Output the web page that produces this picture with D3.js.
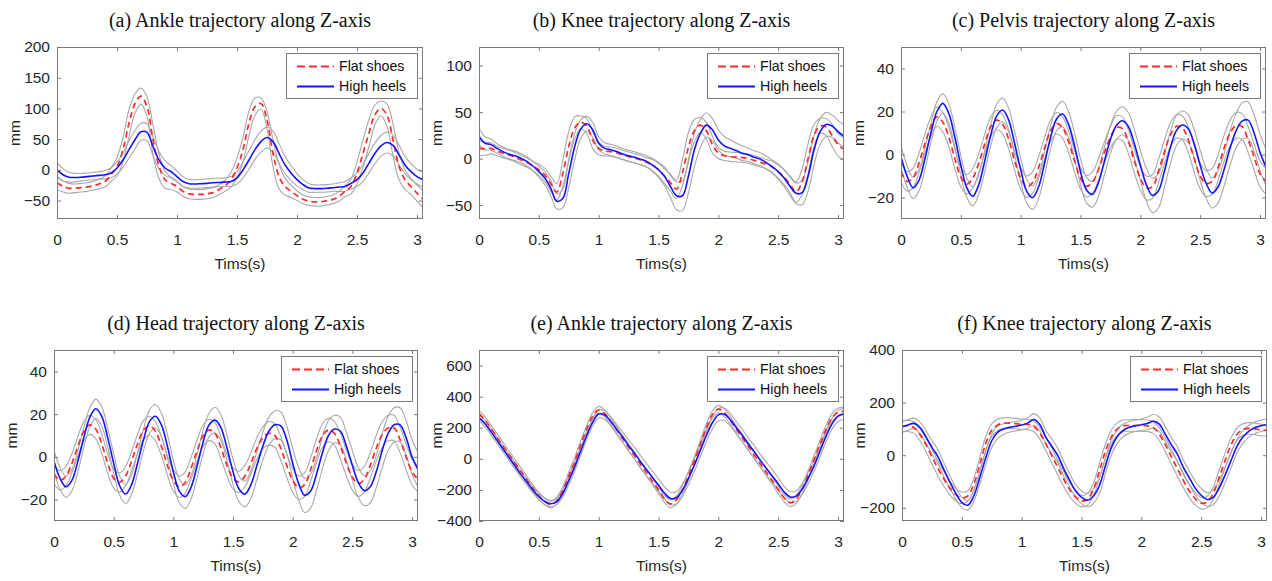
<!DOCTYPE html>
<html lang="en">
<head>
  <meta charset="UTF-8" />
  <title>Trajectories along Z-axis</title>
  <script src="https://cdn.jsdelivr.net/npm/d3@7"></script>
  <style>
    body { margin: 0; background: #fff; }
    svg { display: block; }
    .axis text { font-family: "Liberation Sans", Arial, sans-serif; font-size: 15.5px; fill: #262626; }
    .axis line { stroke: #7a7a7a; }
    .axis path { display: none; }
    .title { font-family: "Liberation Serif", "Times New Roman", serif; font-size: 20px; fill: #111; }
    .label { font-family: "Liberation Sans", Arial, sans-serif; font-size: 15.5px; fill: #262626; }
    .legend text { font-family: "Liberation Sans", Arial, sans-serif; font-size: 14.2px; fill: #111; }
  </style>
</head>
<body>
<svg id="chart" width="1272" height="581"></svg>
<script>
// sample times (s)
var times = [0, 0.05, 0.1, 0.15, 0.2, 0.25, 0.3, 0.35, 0.4, 0.45,
  0.5, 0.55, 0.6, 0.65, 0.7, 0.75, 0.8, 0.85, 0.9, 0.95,
  1, 1.05, 1.1, 1.15, 1.2, 1.25, 1.3, 1.35, 1.4, 1.45,
  1.5, 1.55, 1.6, 1.65, 1.7, 1.75, 1.8, 1.85, 1.9, 1.95,
  2, 2.05, 2.1, 2.15, 2.2, 2.25, 2.3, 2.35, 2.4, 2.45,
  2.5, 2.55, 2.6, 2.65, 2.7, 2.75, 2.8, 2.85, 2.9, 2.95,
  3, 3.05];
var xTicks = [0, 0.5, 1, 1.5, 2, 2.5, 3];
var seriesNames = ["Flat shoes", "High heels"];

// (a) ankle
var flatA = [-21, -27, -30, -30, -29, -28, -26, -23, -19, -8,
  5, 33, 76, 108, 120, 103, 49, 6, -16, -22,
  -27, -35, -39, -40, -40, -39, -37, -32, -26, -16,
  3, 33, 76, 103, 108, 81, 27, -11, -27, -35,
  -42, -48, -51, -52, -52, -50, -48, -43, -35, -27,
  -5, 27, 60, 90, 100, 89, 49, 6, -16, -27,
  -38, -48];
var highA = [0, -8, -12, -12.5, -12, -11, -10, -9, -8, -5,
  3, 16, 33, 49, 62, 61, 38, 16, 3, -3,
  -11, -19, -22.5, -23, -22.5, -22, -21, -20.5, -20, -19,
  -13, 0, 16, 33, 46, 52.6, 46, 27, 8, -5,
  -16, -24, -29.5, -30.5, -30.5, -30, -29, -28, -27, -22,
  -16, -5, 11, 27, 39, 44.5, 40, 24.5, 8, -3,
  -11, -16];
var flatSdA = [11, 9, 8, 7, 7, 7, 7, 8, 9, 11,
  15, 20, 22, 16, 13, 16, 24, 20, 14, 10,
  9, 8, 8, 8, 8, 8, 8, 8, 9, 12,
  16, 20, 20, 14, 9, 14, 22, 20, 14, 10,
  8, 7, 7, 7, 7, 7, 7, 8, 9, 12,
  18, 22, 22, 16, 12, 18, 26, 22, 16, 13,
  13, 14];
var highSdA = [12, 10, 8, 7, 6, 6, 6, 6, 7, 8,
  10, 12, 14, 15, 14, 14, 15, 14, 12, 10,
  9, 8, 7, 7, 7, 7, 7, 7, 7, 8,
  10, 13, 15, 16, 17, 17, 17, 16, 14, 12,
  10, 8, 7, 6, 6, 6, 6, 7, 8, 9,
  11, 14, 16, 17, 17, 17, 17, 16, 14, 13,
  12, 12];

// (b) knee
var flatB = [11, 10.5, 11, 8, 6, 4, 1.5, -1.5, -4.3, -8,
  -12, -17.6, -27, -36, -16, 13, 33, 39, 35, 20,
  11, 8, 7.5, 6, 4, 2, 0.4, -1.4, -4, -7,
  -12, -19, -26, -33, -15, 12, 30, 36, 30, 15,
  6, 3, 2, 1.5, 1, 0, -2, -4, -6, -9,
  -14, -20, -28, -36, -25, 0, 25, 35, 34, 25,
  15, 10];
var highB = [24, 16.5, 15, 11, 7.5, 4.7, 3, 0.4, -3, -8,
  -14, -21, -32, -46, -43, -16, 13, 31.7, 37.4, 31,
  16.5, 11, 9.4, 7.5, 5, 3, 1.4, -0.7, -3, -7,
  -12, -19, -30, -40, -40, -19, 9.4, 27, 36, 31,
  20, 13.7, 11, 8.6, 5.8, 4, 1.4, -0.7, -4.3, -8.6,
  -14, -21, -30, -37.4, -36.7, -19, 9.4, 29, 36.7, 35,
  29, 24];
var flatSdB = [8, 7, 6, 5, 5, 5, 5, 5, 5, 5,
  6, 7, 8, 9, 14, 16, 12, 7, 8, 9,
  7, 5, 5, 5, 5, 5, 5, 5, 5, 6,
  7, 8, 9, 10, 14, 16, 12, 8, 9, 9,
  6, 5, 5, 5, 5, 5, 5, 5, 5, 6,
  7, 8, 9, 11, 14, 16, 12, 8, 9, 12,
  12, 12];
var highSdB = [9, 7, 6, 5, 5, 5, 5, 5, 5, 5,
  6, 7, 8, 8, 10, 15, 14, 10, 8, 8,
  7, 6, 6, 6, 6, 6, 6, 6, 6, 7,
  8, 10, 12, 15, 16, 18, 18, 15, 13, 12,
  11, 10, 9, 8, 8, 7, 7, 7, 7, 7,
  8, 9, 10, 11, 13, 16, 16, 14, 13, 12,
  12, 12];

// (c) pelvis
var flatC = [-8, -12.5, -11, -4, 5, 13, 17.5, 15, 8, -2,
  -10.5, -13.8, -11, -4, 5, 13, 16, 14, 7, -3,
  -11, -15, -13, -6, 3, 11, 14.5, 12.5, 6, -3,
  -11, -14.8, -13, -7, 1, 8, 12.5, 12, 6, -3,
  -11, -15.5, -15, -8, 1, 9, 13, 12.5, 7, -2,
  -10, -13.5, -12.5, -6, 3, 10, 13.5, 13, 7, -1,
  -9, -12.5];
var highC = [-1, -10, -15.5, -12, -2, 10, 20, 23.8, 19, 8,
  -5, -15.5, -19.4, -14, -3, 9, 18, 20.7, 16, 5,
  -7, -17, -20, -15, -4, 8, 16.5, 18.8, 14, 4,
  -8, -16.5, -18.5, -13, -3, 7, 13.5, 15.7, 13, 5,
  -5, -14, -19, -17, -8, 3, 11, 13.7, 12, 5,
  -5, -13.5, -17.9, -15, -7, 3, 11, 15.5, 16, 10,
  1, -6];
var flatSdC = [4.5, 4.5, 4.5, 4.5, 4.5, 4.5, 4.5, 4.5, 4.5, 4.5,
  4.5, 4.5, 4.5, 4.5, 4.5, 4.5, 4.5, 4.5, 4.5, 4.5,
  5, 5, 5, 5, 5, 5, 5, 5, 5, 5,
  5, 5, 5, 5, 5, 5, 5.5, 5.5, 5.5, 5.5,
  5.5, 5.5, 5.5, 5.5, 5.5, 5.5, 5.5, 5.5, 6, 6,
  6, 6, 6, 6, 6, 6, 6, 6, 6, 6,
  6, 6];
var highSdC = [5, 5, 5, 5, 5, 4.5, 4.5, 4.5, 4.5, 4.5,
  4.5, 4.5, 4.5, 4.5, 5, 5, 5.5, 5.5, 5.5, 5.5,
  5.5, 5.5, 5.5, 5.5, 5.5, 5.5, 5.5, 6, 6, 6,
  6, 6, 6, 6.5, 6.5, 6.5, 6.5, 6.5, 6.5, 6.5,
  7, 7.5, 8, 8, 7.5, 7.5, 7, 6.5, 6.5, 6.5,
  7, 7, 7, 7.5, 7.5, 8, 8, 8.5, 8.5, 8.5,
  8.5, 8.5];

// (d) head
var flatD = [-8, -11, -9, -3, 5, 12, 15, 13, 6, -3,
  -10, -12, -9, -2, 6, 12.5, 14.5, 12, 5, -4,
  -11, -14, -12, -5, 3, 10, 12.6, 11, 4, -4,
  -10, -11.7, -9, -3, 4, 9, 11, 10, 4, -4,
  -11, -14.5, -13, -6, 3, 10, 12.6, 11, 5, -3,
  -9.5, -12.5, -10.5, -4, 4, 10.5, 13.5, 13.5, 8, 0,
  -7, -10.5];
var highD = [-2, -10, -14, -11, -2, 9, 18.5, 22.5, 19, 9,
  -3, -13.5, -17.4, -13, -3, 8, 16.5, 19, 15, 5,
  -7, -16, -18.6, -14, -4, 7, 15, 17.2, 13.5, 4,
  -7, -15, -17.4, -13, -4, 5, 12, 15, 14.5, 8,
  -3, -12.5, -18, -16, -8, 2, 10, 13, 12, 5,
  -4, -12, -15.8, -14, -7, 3, 11, 15, 15, 9,
  0, -6];
var flatSdD = [4.5, 4.5, 4.5, 4.5, 4.5, 4.5, 4.5, 4.5, 4.5, 4.5,
  4.5, 4.5, 4.5, 4.5, 4.5, 4.5, 4.5, 4.5, 4.5, 4.5,
  5, 5, 5, 5, 5, 5, 5, 5, 5, 5,
  5, 5, 5, 5, 5, 5, 5.5, 5.5, 5.5, 5.5,
  5.5, 5.5, 5.5, 5.5, 5.5, 5.5, 5.5, 5.5, 6, 6,
  6, 6, 6, 6, 6, 6, 6, 6, 6, 6,
  6, 6];
var highSdD = [5, 5, 5, 5, 5, 4.5, 4.5, 4.5, 4.5, 4.5,
  4.5, 4.5, 4.5, 4.5, 5, 5, 5.5, 5.5, 5.5, 5.5,
  5.5, 5.5, 5.5, 5.5, 5.5, 5.5, 5.5, 6, 6, 6,
  6, 6, 6, 6.5, 6.5, 6.5, 6.5, 6.5, 6.5, 6.5,
  7, 7.5, 8, 8, 7.5, 7.5, 7, 6.5, 6.5, 6.5,
  7, 7, 7, 7.5, 7.5, 8, 8, 8, 8, 8,
  8, 8];

// (e) ankle
var flatE = [290, 250, 195, 140, 85, 30, -25, -80, -135, -190,
  -238, -274, -295, -268, -205, -110, -18, 92, 192, 275,
  315, 292, 242, 187, 130, 75, 20, -35, -90, -145,
  -200, -258, -290, -265, -200, -110, -12, 95, 200, 285,
  320, 297, 247, 190, 135, 80, 25, -30, -85, -140,
  -198, -252, -283, -260, -195, -105, -5, 95, 190, 265,
  300, 305];
var highE = [265, 225, 175, 120, 65, 10, -45, -100, -150, -200,
  -243, -275, -289, -275, -222, -140, -50, 50, 150, 235,
  288, 282, 242, 190, 140, 85, 35, -20, -70, -120,
  -170, -220, -255, -250, -203, -125, -40, 55, 150, 232,
  283, 287, 252, 200, 150, 95, 45, -10, -60, -110,
  -160, -213, -245, -240, -195, -125, -45, 50, 145, 225,
  275, 290];
var flatSdE = [22, 22, 22, 22, 22, 22, 22, 22, 22, 22,
  22, 22, 22, 22, 24, 26, 26, 24, 22, 22,
  22, 22, 22, 22, 22, 22, 22, 22, 22, 22,
  22, 22, 24, 26, 28, 28, 26, 24, 24, 24,
  24, 24, 24, 24, 24, 24, 24, 24, 24, 24,
  24, 24, 24, 26, 28, 28, 26, 26, 26, 26,
  26, 26];
var highSdE = [20, 20, 20, 20, 20, 20, 20, 20, 20, 20,
  20, 20, 20, 20, 24, 28, 28, 26, 24, 24,
  26, 28, 30, 32, 34, 36, 38, 40, 40, 40,
  40, 40, 40, 40, 40, 40, 40, 40, 40, 40,
  40, 40, 40, 40, 40, 40, 40, 40, 40, 40,
  38, 36, 35, 35, 35, 35, 35, 35, 35, 35,
  35, 35];

// (f) knee
var flatF = [110, 112, 105, 79, 40, -5, -50, -90, -125, -150,
  -162, -155, -110, -35, 45, 95, 115, 122, 122, 120,
  118, 117, 110, 85, 45, 0, -45, -90, -130, -158,
  -174, -168, -130, -60, 15, 70, 100, 112, 113, 113,
  113, 112, 105, 80, 40, -5, -50, -95, -135, -165,
  -182, -178, -145, -85, -20, 40, 80, 98, 102, 100,
  96, 95];
var highF = [107, 115, 121, 105, 70, 30, -5, -55, -102, -145,
  -180, -190, -155, -85, -10, 55, 88, 100, 106, 110,
  115, 122, 136, 118, 70, 35, 0, -50, -95, -135,
  -160, -171, -155, -115, -40, 30, 72, 95, 106, 112,
  116, 121, 129, 118, 80, 40, 5, -45, -85, -125,
  -152, -168, -160, -125, -75, -20, 35, 70, 92, 105,
  112, 116];
var flatSdF = [22, 22, 22, 24, 26, 28, 28, 28, 26, 24,
  22, 20, 22, 26, 26, 24, 22, 20, 20, 20,
  20, 20, 20, 22, 26, 28, 28, 28, 26, 24,
  22, 22, 24, 28, 28, 26, 24, 22, 22, 22,
  22, 22, 22, 24, 26, 28, 28, 28, 26, 24,
  22, 22, 24, 28, 28, 26, 24, 22, 22, 22,
  22, 22];
var highSdF = [20, 20, 20, 22, 24, 26, 26, 26, 24, 22,
  20, 18, 20, 24, 26, 26, 24, 20, 18, 18,
  18, 20, 22, 24, 26, 28, 28, 28, 26, 24,
  24, 26, 28, 30, 30, 28, 26, 24, 22, 22,
  22, 24, 26, 28, 28, 28, 28, 28, 26, 26,
  26, 26, 28, 30, 30, 28, 26, 24, 22, 22,
  22, 22];

var panels = [
  { title: "(a) Ankle trajectory along Z-axis", yDomain: [-80, 200], yTicks: [-50, 0, 50, 100, 150, 200],
    flat: flatA, high: highA, flatSd: flatSdA, highSd: highSdA, left: 57, right: 423, top: 47, bottom: 219 },
  { title: "(b) Knee trajectory along Z-axis", yDomain: [-65, 120], yTicks: [-50, 0, 50, 100],
    flat: flatB, high: highB, flatSd: flatSdB, highSd: highSdB, left: 479, right: 844, top: 47, bottom: 219 },
  { title: "(c) Pelvis trajectory along Z-axis", yDomain: [-30, 50], yTicks: [-20, 0, 20, 40],
    flat: flatC, high: highC, flatSd: flatSdC, highSd: highSdC, left: 901, right: 1266, top: 47, bottom: 219 },
  { title: "(d) Head trajectory along Z-axis", yDomain: [-30, 50], yTicks: [-20, 0, 20, 40],
    flat: flatD, high: highD, flatSd: flatSdD, highSd: highSdD, left: 54, right: 418, top: 350, bottom: 521 },
  { title: "(e) Ankle trajectory along Z-axis", yDomain: [-400, 700], yTicks: [-400, -200, 0, 200, 400, 600],
    flat: flatE, high: highE, flatSd: flatSdE, highSd: highSdE, left: 479, right: 844, top: 350, bottom: 521 },
  { title: "(f) Knee trajectory along Z-axis", yDomain: [-250, 400], yTicks: [-200, 0, 200, 400],
    flat: flatF, high: highF, flatSd: flatSdF, highSd: highSdF, left: 902, right: 1267, top: 350, bottom: 521 }
];

var svg = d3.select("#chart");
var red = "#ff2a2a", blue = "#1414ff", gray = "#a8a8a8", frame = "#7a7a7a";

panels.forEach(function(p, i) {
  var x = d3.scaleLinear().domain([0, 3.05]).range([p.left, p.right]);
  var y = d3.scaleLinear().domain(p.yDomain).range([p.bottom, p.top]);
  var g = svg.append("g");

  g.append("clipPath").attr("id", "clip" + i)
    .append("rect")
    .attr("x", p.left).attr("y", p.top)
    .attr("width", p.right - p.left).attr("height", p.bottom - p.top);

  var line = d3.line()
    .x(function(d, j) { return x(times[j]); })
    .y(function(d) { return y(d); })
    .curve(d3.curveCatmullRom.alpha(0.5));

  var plot = g.append("g").attr("clip-path", "url(#clip" + i + ")");

  // mean +/- sd envelopes
  [[p.flat, p.flatSd], [p.high, p.highSd]].forEach(function(pair) {
    [1, -1].forEach(function(s) {
      plot.append("path")
        .datum(pair[0].map(function(v, j) { return v + s * pair[1][j]; }))
        .attr("d", line)
        .attr("fill", "none")
        .attr("stroke", gray)
        .attr("stroke-width", 1.1);
    });
  });

  plot.append("path").datum(p.flat)
    .attr("d", line).attr("fill", "none")
    .attr("stroke", red).attr("stroke-width", 1.7)
    .attr("stroke-dasharray", "6,4");

  plot.append("path").datum(p.high)
    .attr("d", line).attr("fill", "none")
    .attr("stroke", blue).attr("stroke-width", 1.6);

  // axes with inward ticks on all sides
  g.append("g").attr("class", "axis")
    .attr("transform", "translate(0," + p.bottom + ")")
    .call(d3.axisBottom(x).tickValues(xTicks).tickSize(-4).tickPadding(15).tickFormat(d3.format("")));
  g.append("g").attr("class", "axis")
    .attr("transform", "translate(0," + p.top + ")")
    .call(d3.axisTop(x).tickValues(xTicks).tickSize(-4).tickFormat(""));
  g.append("g").attr("class", "axis")
    .attr("transform", "translate(" + p.left + ",0)")
    .call(d3.axisLeft(y).tickValues(p.yTicks).tickSize(-4).tickPadding(7).tickFormat(d3.format("")));
  g.append("g").attr("class", "axis")
    .attr("transform", "translate(" + p.right + ",0)")
    .call(d3.axisRight(y).tickValues(p.yTicks).tickSize(-4).tickFormat(""));

  g.append("rect")
    .attr("x", p.left + 0.5).attr("y", p.top + 0.5)
    .attr("width", p.right - p.left - 1).attr("height", p.bottom - p.top - 1)
    .attr("fill", "none").attr("stroke", frame).attr("stroke-width", 1);

  var cx = (p.left + p.right) / 2;
  g.append("text").attr("class", "title")
    .attr("x", cx).attr("y", p.top - 20)
    .attr("text-anchor", "middle").text(p.title);
  g.append("text").attr("class", "label")
    .attr("x", cx).attr("y", p.bottom + 50)
    .attr("text-anchor", "middle").text("Tims(s)");
  g.append("text").attr("class", "label")
    .attr("transform", "translate(" + (p.left - 37) + "," + ((p.top + p.bottom) / 2) + ") rotate(-90)")
    .attr("text-anchor", "middle").text("mm");

  // legend
  var lw = 131, lh = 45;
  var lx = p.right - 6 - lw, ly = p.top + 6;
  var leg = g.append("g").attr("class", "legend");
  leg.append("rect")
    .attr("x", lx + 0.5).attr("y", ly + 0.5)
    .attr("width", lw).attr("height", lh)
    .attr("fill", "#fff").attr("stroke", frame);
  seriesNames.forEach(function(name, k) {
    var ry = ly + 13.5 + k * 20;
    leg.append("line")
      .attr("x1", lx + 11).attr("x2", lx + 48)
      .attr("y1", ry).attr("y2", ry)
      .attr("stroke", k === 0 ? red : blue)
      .attr("stroke-width", 1.8)
      .attr("stroke-dasharray", k === 0 ? "8,4" : null);
    leg.append("text")
      .attr("x", lx + 53).attr("y", ry)
      .attr("dy", "0.35em").text(name);
  });
});
</script>
</body>
</html>
